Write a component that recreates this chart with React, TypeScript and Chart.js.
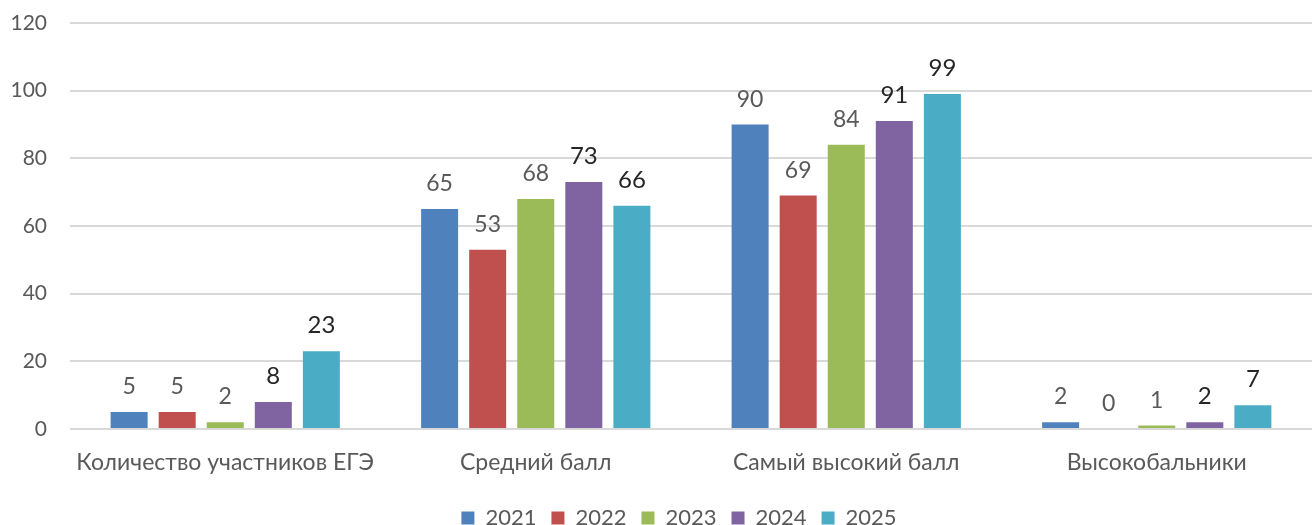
import React, { useEffect, useRef } from "react";
import { Chart, registerables } from "chart.js";

Chart.register(...registerables);

const categories = ["Количество участников ЕГЭ", "Средний балл", "Самый высокий балл", "Высокобальники"];
const years = ["2021", "2022", "2023", "2024", "2025"];
const values2021 = [5, 65, 90, 2];
const values2022 = [5, 53, 69, 0];
const values2023 = [2, 68, 84, 1];
const values2024 = [8, 73, 91, 2];
const values2025 = [23, 66, 99, 7];
const yTicks = [0, 20, 40, 60, 80, 100, 120];

const colors = ["#4F81BD", "#C0504D", "#9BBB59", "#8064A2", "#4BACC6"];
const FONT = "Lato, 'Noto Sans', sans-serif";

const labelPlugin = {
  id: "barLabels",
  afterLayout(chart: any) {
    if (chart.legend) {
      chart.legend.left += 23;
      chart.legend.right += 23;
    }
  },
  afterDatasetsDraw(chart: any) {
    const ctx = chart.ctx;
    ctx.save();
    ctx.textAlign = "center";
    ctx.textBaseline = "alphabetic";
    chart.data.datasets.forEach((ds: any, di: number) => {
      const meta = chart.getDatasetMeta(di);
      const strong = di >= 3;
      ctx.font = `${strong ? 24 : 23}px ${FONT}`;
      ctx.fillStyle = strong ? "#262626" : "#595959";
      meta.data.forEach((el: any, i: number) => {
        const v = ds.data[i];
        ctx.fillText(String(v), el.x, el.y - 18);
      });
    });
    ctx.restore();
  },
};

export default function App() {
  const ref = useRef<HTMLCanvasElement>(null);
  useEffect(() => {
    if (!ref.current) return;
    const all = [values2021, values2022, values2023, values2024, values2025];
    const chart = new Chart(ref.current, {
      type: "bar",
      data: {
        labels: categories,
        datasets: years.map((y, i) => ({
          label: y,
          data: all[i],
          backgroundColor: colors[i],
          borderWidth: 0,
          barPercentage: 0.77,
          categoryPercentage: 0.774,
        })),
      },
      options: {
        responsive: false,
        animation: false,
        layout: { padding: { top: 23, right: 0, left: 0, bottom: 0 } },
        plugins: {
          tooltip: { enabled: false },
          legend: {
            position: "bottom",
            labels: {
              boxWidth: 13,
              boxHeight: 13,
              padding: 15,
              color: "#595959",
              font: { family: FONT, size: 22 },
            },
          },
        },
        scales: {
          x: {
            grid: { display: false, drawTicks: false },
            border: { display: false },
            ticks: { color: "#595959", font: { family: FONT, size: 23 }, padding: 20 },
            afterFit: (s: any) => { s.height = 63; },
          },
          y: {
            min: 0,
            max: 120,
            afterBuildTicks: (s: any) => { s.ticks = yTicks.map((v) => ({ value: v })); },
            grid: { color: "#D9D9D9", lineWidth: 2, drawTicks: false },
            border: { display: false },
            ticks: { color: "#595959", font: { family: FONT, size: 21 }, padding: 23 },
            afterFit: (s: any) => { s.width = 70; s.paddingTop = 0; s.paddingBottom = 0; },
          },
        },
      },
      plugins: [labelPlugin],
    });
    return () => chart.destroy();
  }, []);
  return (
    <div style={{ position: "fixed", left: 0, top: 0, width: 1312, height: 525, overflow: "hidden", background: "#fff" }}>
      <canvas ref={ref} width={1312} height={539} />
    </div>
  );
}
